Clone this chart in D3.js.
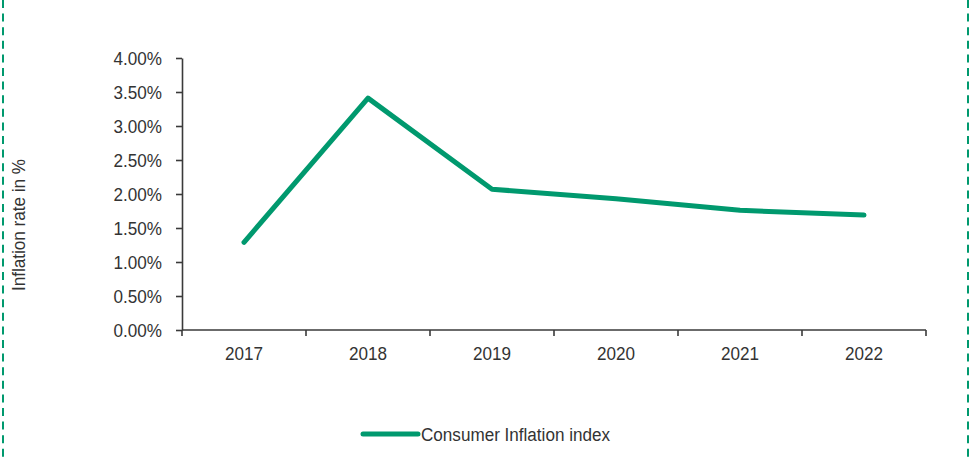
<!DOCTYPE html>
<html>
<head>
<meta charset="utf-8">
<script src="https://cdn.jsdelivr.net/npm/d3@7"></script>
<style>
  html, body { margin: 0; padding: 0; background: #fff; }
  svg { display: block; }
  text { font-family: "Liberation Sans", Arial, sans-serif; fill: #333; }
</style>
</head>
<body>
<svg id="chart" width="970" height="459"></svg>
<script>
// Annual consumer inflation, in percent
const years = ["2017", "2018", "2019", "2020", "2021", "2022"];
const inflation = [1.29, 3.41, 2.07, 1.93, 1.76, 1.69];
const yTicks = [0, 0.5, 1, 1.5, 2, 2.5, 3, 3.5, 4];
const seriesName = "Consumer Inflation index";
const yTitle = "Inflation rate in %";

const green = "#00996e";
const axisColor = "#3a3a3a";
const squeeze = 0.9; // narrow lettering

const svg = d3.select("#chart");
const W = 970, H = 459;
const m = { left: 182, right: 44, top: 58, bottom: 129 };

const x = d3.scaleBand().domain(years).range([m.left, W - m.right]).padding(0);
const y = d3.scaleLinear().domain([0, 4]).range([H - m.bottom, m.top]);

// dashed frame edges
[3, 968].forEach(px => {
  svg.append("line")
    .attr("x1", px).attr("x2", px).attr("y1", 0).attr("y2", H)
    .attr("stroke", green).attr("stroke-width", 2)
    .attr("stroke-dasharray", "8,5.6");
});

// y axis
const yAxis = svg.append("g")
  .attr("transform", `translate(${m.left},0)`)
  .call(d3.axisLeft(y).tickValues(yTicks).tickSize(6).tickSizeOuter(0)
    .tickFormat(d => d.toFixed(2) + "%"));
yAxis.select(".domain").attr("stroke", axisColor).attr("stroke-width", 1.6);
yAxis.selectAll(".tick line").attr("stroke", axisColor).attr("stroke-width", 1.6);
yAxis.selectAll(".tick text")
  .attr("x", -20 / squeeze)
  .attr("dy", "0.34em")
  .attr("transform", `scale(${squeeze},1)`)
  .style("font-size", "19px").style("fill", "#333");

// x axis with ticks at category boundaries
const xg = svg.append("g").attr("transform", `translate(0,${y(0)})`);
xg.append("line")
  .attr("x1", m.left).attr("x2", W - m.right)
  .attr("stroke", axisColor).attr("stroke-width", 1.6);
const bounds = years.map(d => x(d)).concat([x(years[years.length - 1]) + x.bandwidth()]);
xg.selectAll("line.bt").data(bounds).join("line").attr("class", "bt")
  .attr("x1", d => d).attr("x2", d => d).attr("y1", 0).attr("y2", 6)
  .attr("stroke", axisColor).attr("stroke-width", 1.6);
xg.selectAll("text.yl").data(years).join("text").attr("class", "yl")
  .attr("transform", d => `translate(${x(d) + x.bandwidth() / 2},24) scale(${squeeze},1)`)
  .attr("text-anchor", "middle")
  .attr("dy", "0.34em")
  .style("font-size", "19px")
  .text(d => d);

// y axis title
svg.append("text")
  .attr("transform", `translate(25,225) rotate(-90) scale(${squeeze},1)`)
  .attr("text-anchor", "middle")
  .style("font-size", "19px")
  .text(yTitle);

// series line
const line = d3.line()
  .x((d, i) => x(years[i]) + x.bandwidth() / 2)
  .y(d => y(d));
svg.append("path")
  .datum(inflation)
  .attr("d", line)
  .attr("fill", "none")
  .attr("stroke", green)
  .attr("stroke-width", 5)
  .attr("stroke-linecap", "round")
  .attr("stroke-linejoin", "round");

// legend
const lg = svg.append("g").attr("transform", "translate(363,434)");
lg.append("line")
  .attr("x1", 0).attr("x2", 55).attr("y1", 0).attr("y2", 0)
  .attr("stroke", green).attr("stroke-width", 5).attr("stroke-linecap", "round");
lg.append("text")
  .attr("transform", `translate(58,0) scale(${squeeze},1)`)
  .attr("dy", "0.35em")
  .style("font-size", "19px")
  .text(seriesName);
</script>
</body>
</html>
